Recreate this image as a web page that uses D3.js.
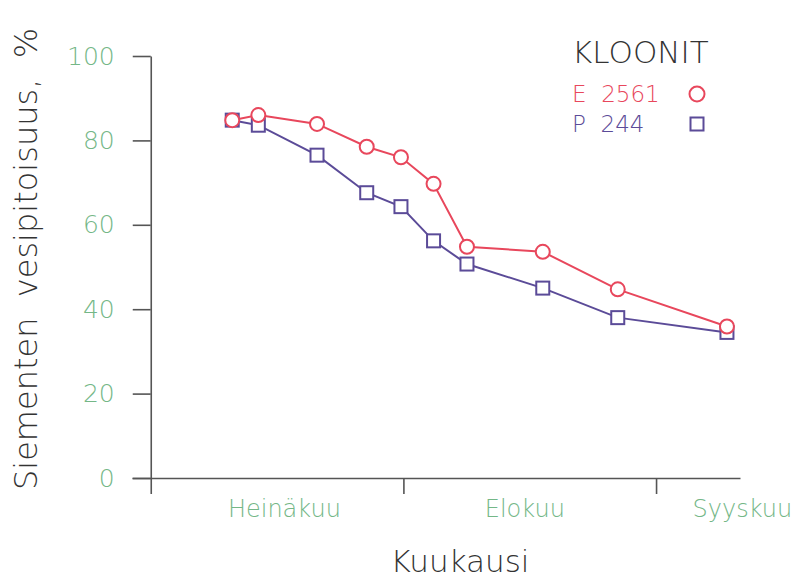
<!DOCTYPE html>
<html>
<head>
<meta charset="utf-8">
<script src="https://cdnjs.cloudflare.com/ajax/libs/d3/7.8.5/d3.min.js"></script>
<style>
  body { margin: 0; background: #fff; }
  text { font-family: "DejaVu Sans", "Noto Sans", sans-serif; font-weight: 200; white-space: pre; }
</style>
</head>
<body>
<svg id="chart" width="795" height="581"></svg>
<script>
// sampling days, counted from 1 July
const days = [10, 13.2, 20.4, 26.5, 30.7, 34.7, 38.8, 48.1, 57.3, 70.7];
const e2561 = [84.8, 86.0, 83.9, 78.5, 76.0, 69.7, 54.8, 53.6, 44.7, 35.9];
const p244 = [84.8, 83.6, 76.5, 67.6, 64.3, 56.2, 50.7, 45.0, 38.0, 34.5];
const monthStarts = [0, 31, 62];
const monthNames = ['Heinäkuu', 'Elokuu', 'Syyskuu'];
const monthLabelDays = [16.4, 45.9, 72.6];
const yTicks = [0, 20, 40, 60, 80, 100];

const red = '#e8475c', purple = '#5b4b98', green = '#74b787', axisColor = '#555';

let svg = d3.select('#chart');

let x = d3.scaleLinear().domain([-2.3, 72.3]).range([132, 740]);
let y = d3.scaleLinear().domain([0, 100]).range([478, 56]);

// x axis: long baseline, ticks down at month boundaries
let xAxis = svg.append('g')
    .attr('transform', 'translate(0,' + y(0) + ')')
    .call(d3.axisBottom(x).tickValues(monthStarts).tickSize(16).tickSizeOuter(0).tickFormat(''));
xAxis.selectAll('path, line').attr('stroke', axisColor).attr('stroke-width', 1.6);

// y axis
let yAxis = svg.append('g')
    .attr('transform', 'translate(' + x(0) + ',0)')
    .call(d3.axisLeft(y).tickValues(yTicks).tickSize(18).tickSizeOuter(0).tickPadding(18));
yAxis.selectAll('path, line').attr('stroke', axisColor).attr('stroke-width', 1.6);
yAxis.selectAll('text')
    .attr('fill', green)
    .style('font-size', '25px');

svg.append('g').selectAll('text')
    .data(monthNames)
    .enter().append('text')
    .attr('x', (d, i) => x(monthLabelDays[i]))
    .attr('y', 517)
    .attr('text-anchor', 'middle')
    .attr('fill', green)
    .style('font-size', '24px')
    .text(d => d);

svg.append('text')
    .attr('x', 460).attr('y', 572)
    .attr('text-anchor', 'middle')
    .attr('fill', '#333')
    .style('font-size', '31px')
    .text('Kuukausi');

svg.append('text')
    .attr('transform', 'translate(37,259)rotate(-90)')
    .attr('text-anchor', 'middle')
    .attr('fill', '#333')
    .style('font-size', '32px')
    .text('Siementen  vesipitoisuus,  %');

// series
let line = d3.line()
    .x((d, i) => x(days[i]))
    .y(d => y(d));

svg.append('path').datum(p244)
    .attr('d', line).attr('fill', 'none')
    .attr('stroke', purple).attr('stroke-width', 2);
svg.append('path').datum(e2561)
    .attr('d', line).attr('fill', 'none')
    .attr('stroke', red).attr('stroke-width', 2);

svg.append('g').selectAll('rect')
    .data(p244)
    .enter().append('rect')
    .attr('x', (d, i) => x(days[i]) - 6.5)
    .attr('y', d => y(d) - 6.5)
    .attr('width', 13).attr('height', 13)
    .attr('fill', '#fff').attr('stroke', purple).attr('stroke-width', 2);

svg.append('g').selectAll('circle')
    .data(e2561)
    .enter().append('circle')
    .attr('cx', (d, i) => x(days[i]))
    .attr('cy', d => y(d))
    .attr('r', 7)
    .attr('fill', '#fff').attr('stroke', red).attr('stroke-width', 2);

// legend
let legend = svg.append('g');
legend.append('text')
    .attr('x', 572).attr('y', 63)
    .attr('fill', '#333')
    .style('font-size', '31px')
    .text('KLOONIT');
legend.append('text')
    .attr('x', 572).attr('y', 102)
    .attr('fill', red)
    .style('font-size', '23px')
    .text('E  2561');
legend.append('text')
    .attr('x', 572).attr('y', 132)
    .attr('fill', purple)
    .style('font-size', '23px')
    .text('P  244');
legend.append('circle')
    .attr('cx', 697).attr('cy', 94).attr('r', 7.5)
    .attr('fill', 'none').attr('stroke', red).attr('stroke-width', 2);
legend.append('rect')
    .attr('x', 690.5).attr('y', 117.5).attr('width', 13).attr('height', 13)
    .attr('fill', 'none').attr('stroke', purple).attr('stroke-width', 2);
</script>
</body>
</html>
